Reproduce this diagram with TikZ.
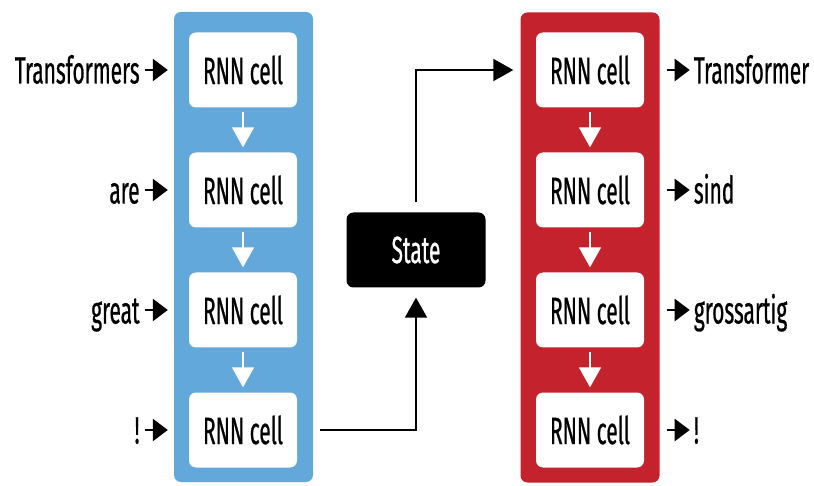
\documentclass[tikz,border=0pt]{standalone}
\usepackage{fontspec}
\setmainfont[FakeStretch=0.55, FakeBold=0.6]{Fira Sans}
\usetikzlibrary{positioning}
\usetikzlibrary{arrows.meta}
\definecolor{encblue}{HTML}{62A8DA}
\definecolor{decred}{HTML}{C4222C}
\tikzset{panel/.style = {rounded corners=7pt, inner sep=0,
                         minimum width=139pt, minimum height=470pt}}
\tikzset{cell/.style = {fill=white, rounded corners=7pt, inner sep=0,
                        minimum width=108pt, minimum height=75pt,
                        font=\fontsize{38}{38}\selectfont}}
\tikzset{word/.style = {inner sep=0, text height=27pt, text depth=0pt,
                        font=\fontsize{38}{38}\selectfont}}
\tikzset{feed/.style = {line width=2.5pt, -{Triangle[length=15pt,width=22pt]}}}
\tikzset{down/.style = {white, line width=1.5pt, -{Triangle[length=20pt,width=22pt]}}}
\tikzset{link/.style = {line width=2pt, -{Triangle[length=20pt,width=22pt]}}}

\begin{document}
\begin{tikzpicture}[x=1pt, y=-1pt]
    \useasboundingbox (0,0) rectangle (814,486);
    % encoder and decoder
    \node[panel, fill=encblue] (enc) at (243.5,247) {};
    \node[panel, fill=decred] (dec) at (590,247.5) {};
    \foreach \i/\y in {1/70, 2/190, 3/310, 4/430} {
        \node[cell] (e\i) at (243,\y) {RNN cell};
        \node[cell] (d\i) at (590,\y) {RNN cell};
    }
    \foreach \i/\j in {1/2, 2/3, 3/4} {
        \draw[down, shorten <=4pt, shorten >=5pt] (e\i.south) -- (e\j.north);
        \draw[down, shorten <=4pt, shorten >=5pt] (d\i.south) -- (d\j.north);
    }
    % inputs
    \foreach \i/\w in {1/Transformers, 2/are, 3/great, 4/!} {
        \coordinate (ein\i) at ([xshift=-29pt]enc.west |- e\i);
        \draw[feed, shorten >=6pt] (ein\i) -- (enc.west |- e\i);
        \node[word, left=5pt of ein\i] (win\i) {\w};
    }
    % outputs
    \foreach \i/\w in {1/Transformer, 2/sind, 3/grossartig, 4/!} {
        \coordinate (dout\i) at ([xshift=30pt]dec.east |- d\i);
        \draw[feed, shorten <=7pt] (dec.east |- d\i) -- (dout\i);
        \node[word, right=4pt of dout\i] (wout\i) {\w};
    }
    % state
    \node[fill=black, text=white, rounded corners=7pt, inner sep=0,
          minimum width=139pt, minimum height=75pt,
          font=\fontsize{38}{38}\selectfont] (state) at (416,250) {State};
    \draw[link, shorten <=7pt, shorten >=10pt] (enc.east |- e4) -| (state.south);
    \draw[link, shorten <=10pt, shorten >=7pt] (state.north) |- (dec.west |- d1);
\end{tikzpicture}
\end{document}
